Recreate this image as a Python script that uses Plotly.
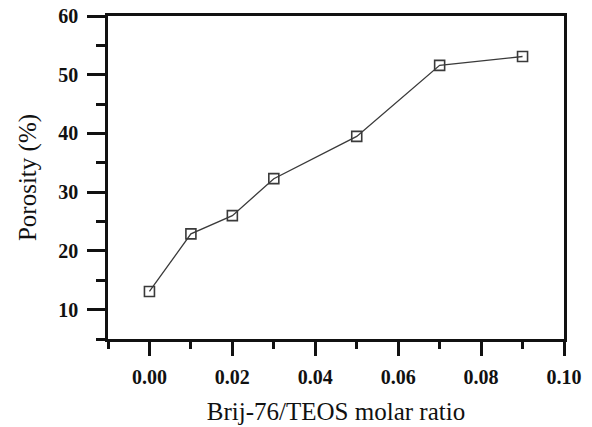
import plotly.graph_objects as go

molar_ratio = [0.00, 0.01, 0.02, 0.03, 0.05, 0.07, 0.09]
porosity = [13.1, 22.9, 26.0, 32.3, 39.5, 51.6, 53.1]

x_tickvals = [0.00, 0.02, 0.04, 0.06, 0.08, 0.10]
x_ticktext = ["0.00", "0.02", "0.04", "0.06", "0.08", "0.10"]
y_tickvals = [10, 20, 30, 40, 50, 60]
y_ticktext = ["10", "20", "30", "40", "50", "60"]

fig = go.Figure()
fig.add_trace(go.Scatter(
    x=molar_ratio, y=porosity, mode="lines+markers",
    line=dict(color="#3a3a3a", width=1.3),
    marker=dict(symbol="square-open", size=10, color="#3a3a3a", line=dict(width=1.6)),
    showlegend=False,
))

tick_font = dict(family="Liberation Serif", size=20, color="#111111", weight="bold")
title_font = dict(family="Liberation Serif", size=25, color="#111111")

fig.update_layout(
    width=592, height=427,
    margin=dict(l=108, r=28, t=16, b=88),
    paper_bgcolor="white", plot_bgcolor="white",
    xaxis=dict(
        range=[-0.01, 0.10], tickvals=x_tickvals, ticktext=x_ticktext,
        ticks="outside", ticklen=14, tickwidth=2.5, tickcolor="#111111",
        showline=True, linewidth=2.5, linecolor="#111111", mirror=True,
        showgrid=False, zeroline=False, tickfont=tick_font, automargin=False,
        ticklabelstandoff=4,
        minor=dict(tickvals=[-0.01, 0.01, 0.03, 0.05, 0.07, 0.09], ticks="outside",
                   ticklen=7, tickwidth=2.5, tickcolor="#111111"),
        title=dict(text="Brij-76/TEOS molar ratio", font=title_font, standoff=16),
    ),
    yaxis=dict(
        range=[5, 60], tickvals=y_tickvals, ticktext=y_ticktext,
        ticks="outside", ticklen=18, tickwidth=2.5, tickcolor="#111111",
        showline=True, linewidth=2.5, linecolor="#111111", mirror=True,
        showgrid=False, zeroline=False, tickfont=tick_font, automargin=False,
        ticklabelstandoff=5,
        minor=dict(tickvals=[5, 15, 25, 35, 45, 55], ticks="outside",
                   ticklen=9, tickwidth=2.5, tickcolor="#111111"),
        title=dict(text="Porosity (%)", font=title_font, standoff=15),
    ),
)

fig.write_html("out.html", config={"displayModeBar": False},
               post_script="document.body.style.margin='0';")
